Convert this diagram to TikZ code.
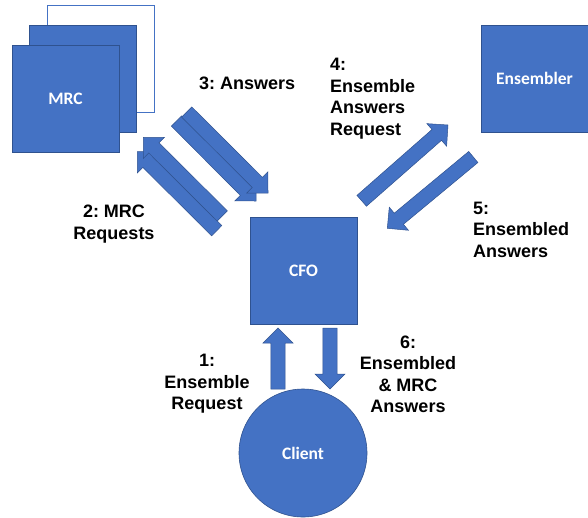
\documentclass[tikz,border=0pt]{standalone}
\usepackage{fontspec}
\setmainfont{Liberation Sans}
\newfontfamily\nodefont{Carlito}
\usetikzlibrary{calc}
\definecolor{offblue}{HTML}{4472C4}
\definecolor{offdark}{HTML}{2F528F}
\frenchspacing
\tikzset{
  box/.style={rectangle, fill=offblue, draw=offdark, line width=0.6pt, minimum width=107pt, minimum height=107pt, inner sep=0pt, text=white, font=\nodefont\bfseries\fontsize{17.5}{20}\selectfont},
  ghost/.style={rectangle, fill=white, draw=offblue, line width=0.8pt, minimum width=107pt, minimum height=107pt, inner sep=0pt},
  round/.style={circle, fill=offblue, draw=offdark, line width=0.6pt, minimum size=128pt, inner sep=0pt, text=white, font=\nodefont\bfseries\fontsize{17.5}{20}\selectfont},
  lbl/.style={inner sep=0pt, font=\bfseries\fontsize{18}{21.5}\selectfont},
  barrow/.style={fill=offblue, draw=offdark, line width=0.5pt, line join=miter}
}
\newcommand{\blockarrow}[2]{%
  \coordinate (ba-h) at ($(#2)!15pt!(#1)$);
  \draw[barrow] ($(#1)!7.2pt!90:(#2)$) -- ($(ba-h)!7.2pt!90:(#2)$) -- ($(ba-h)!15pt!90:(#2)$) -- (#2)
    -- ($(ba-h)!15pt!-90:(#2)$) -- ($(ba-h)!7.2pt!-90:(#2)$) -- ($(#1)!7.2pt!-90:(#2)$) -- cycle;
}
\begin{document}
\begin{tikzpicture}[x=1pt,y=-1pt]
\useasboundingbox (0,0) rectangle (588,517);
% nodes
\node[ghost] (mrcback) at (100.5,59) {};
\node[box] (mrcmid) at (83,78.5) {};
\node[box] (mrc) at (65.5,98.5) {MRC};
\node[box] (ens) at (534.5,78.5) {Ensembler};
\node[box] (cfo) at (303.5,270.5) {CFO};
\node[round] (client) at (303,453) {Client};
% arrow end points
\coordinate (a1t) at (278,389);   \coordinate (a1h) at (278,328);
\coordinate (a6t) at (330,328);   \coordinate (a6h) at (330,389);
\coordinate (a3bt) at (176.5,121); \coordinate (a3bh) at (256,201);
\coordinate (a3ft) at (186.7,112); \coordinate (a3fh) at (268,193);
\coordinate (a2bt) at (216.7,230.7); \coordinate (a2bh) at (137.3,151.7);
\coordinate (a2ft) at (222.3,216); \coordinate (a2fh) at (143.3,137.3);
\coordinate (a4t) at (361.7,200.8); \coordinate (a4h) at (448,125);
\coordinate (a5t) at (473.3,157);  \coordinate (a5h) at (387.3,228.3);
% arrows
\blockarrow{a1t}{a1h}
\blockarrow{a6t}{a6h}
\blockarrow{a3bt}{a3bh}
\blockarrow{a3ft}{a3fh}
\blockarrow{a2bt}{a2bh}
\blockarrow{a2ft}{a2fh}
\blockarrow{a4t}{a4h}
\blockarrow{a5t}{a5h}
% labels
\node[lbl, anchor=west] (l3) at (199,83) {3: Answers};
\node[lbl, align=center] (l2) at (114,224) {2: MRC\\Requests};
\node[lbl, align=left, anchor=west] (l4) at (330,98.5) {4:\\Ensemble\\Answers\\Request};
\node[lbl, align=left, anchor=west] (l5) at (473,229.5) {5:\\Ensembled\\Answers};
\node[lbl, align=center] (l1) at (207,384) {1:\\Ensemble\\Request};
\node[lbl, align=center] (l6) at (408,374.5) {6:\\Ensembled\\\& MRC\\Answers};
\end{tikzpicture}
\end{document}
